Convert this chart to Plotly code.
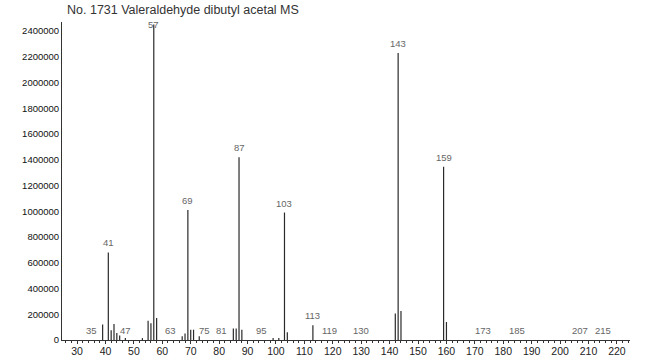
import plotly.graph_objects as go

# m/z peaks and intensities
mz = [39, 41, 42, 43, 44, 45, 47, 53, 55, 56, 57, 58, 67, 68, 69, 70, 71, 73,
      85, 86, 87, 88, 99, 101, 103, 104, 113, 142, 143, 144, 159, 160]
intensity = [120000, 680000, 75000, 125000, 55000, 35000, 15000, 15000, 150000, 130000,
             2450000, 170000, 30000, 50000, 1010000, 80000, 80000, 30000,
             90000, 90000, 1420000, 80000, 15000, 15000, 990000, 60000, 115000,
             205000, 2230000, 225000, 1345000, 140000]

# peak labels
label_mz = [35, 41, 47, 57, 63, 69, 75, 81, 87, 95, 103, 113, 119, 130, 143, 159, 173, 185, 207, 215]
label_y = [0, 680000, 0, 2450000, 0, 1010000, 0, 0, 1420000, 0, 990000, 115000, 0, 0,
           2230000, 1345000, 0, 0, 0, 0]

title_text = "No. 1731 Valeraldehyde dibutyl acetal MS"
x_ticks = list(range(30, 221, 10))
y_ticks = list(range(0, 2400001, 200000))

L, R, T, B = 62, 20, 22, 19
W, H = 650, 359

xs, ys = [], []
for m, h in zip(mz, intensity):
    xs += [m, m, None]
    ys += [0, h, None]

fig = go.Figure()
fig.add_trace(go.Scatter(x=xs, y=ys, mode="lines",
                         line=dict(color="#2a2a2a", width=1.2),
                         hoverinfo="skip", showlegend=False))

top = max(intensity)
for lx, ly in zip(label_mz, label_y):
    at_top = ly >= top
    fig.add_annotation(x=lx, y=ly, text=str(lx), showarrow=False,
                       yanchor="middle" if at_top else "bottom",
                       yshift=0 if at_top else 2,
                       font=dict(family="Liberation Sans, Arial", size=9.5, color="#666666"))

fig.add_annotation(text=title_text, xref="paper", yref="paper",
                   x=(65 - L) / (W - L - R), y=1 + (T - 10) / (H - T - B),
                   xanchor="left", yanchor="middle", showarrow=False,
                   font=dict(family="Liberation Sans, Arial", size=12.5, color="#333333"))

fig.update_layout(
    width=W, height=H,
    margin=dict(l=L, r=R, t=T, b=B, autoexpand=False),
    paper_bgcolor="white", plot_bgcolor="white",
    showlegend=False,
)

fig.update_xaxes(
    range=[24.7, 224.6], automargin=False,
    tickvals=x_ticks, ticktext=[str(v) for v in x_ticks],
    ticks="outside", ticklen=3, tickwidth=1, tickcolor="#333333",
    ticklabelstandoff=-2,
    minor=dict(dtick=2, tick0=0, ticks="outside", ticklen=2, tickcolor="#333333"),
    showgrid=False, zeroline=False,
    showline=True, linecolor="#333333", linewidth=1,
    tickfont=dict(family="Liberation Sans, Arial", size=10.5, color="#222222"),
)
fig.update_yaxes(
    range=[0, 2470000], automargin=False,
    tickvals=y_ticks, ticktext=[str(v) for v in y_ticks],
    ticks="", showgrid=False, zeroline=False,
    showline=True, linecolor="#333333", linewidth=1,
    tickfont=dict(family="Liberation Sans, Arial", size=9.5, color="#111111"),
)

fig.write_html("out.html", config={"displayModeBar": False},
               post_script="document.body.style.margin='0';")
